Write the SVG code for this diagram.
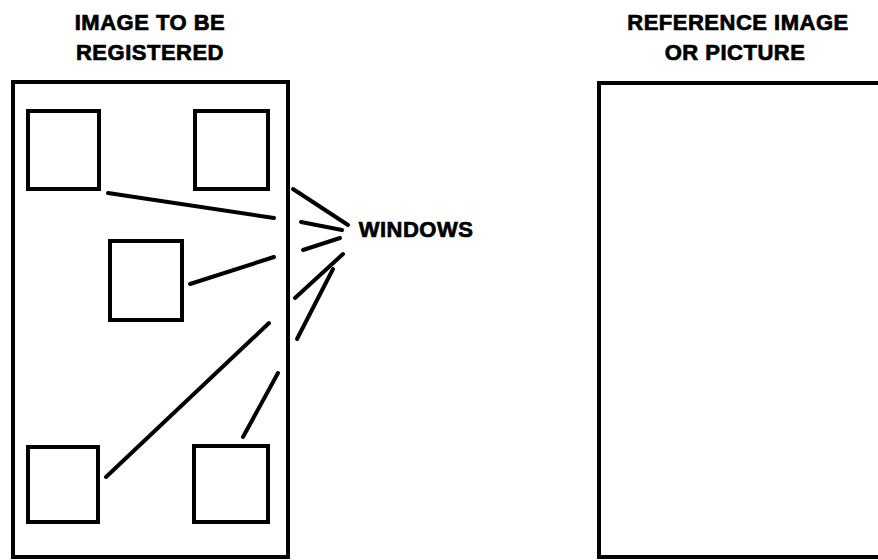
<svg xmlns="http://www.w3.org/2000/svg" width="878" height="560" viewBox="0 0 878 560">
<style>
.frame{fill:none;stroke:#000;stroke-width:4}
.win{fill:none;stroke:#000;stroke-width:4}
.conn line{stroke:#000;stroke-width:4;stroke-linecap:round}
.lbl{font-family:"Liberation Sans",Arial,Helvetica,sans-serif;font-weight:bold;font-size:22px;fill:#000;stroke:#000;stroke-width:0.7;text-anchor:middle;letter-spacing:0.5px}
</style>
<rect width="878" height="560" fill="#fff"/>
<g id="image-to-be-registered">
<text class="lbl" x="150" y="30">IMAGE TO BE</text>
<text class="lbl" x="150" y="60">REGISTERED</text>
<rect class="frame" x="13" y="82" width="275" height="475"/>
</g>
<g id="reference-image">
<text class="lbl" x="738" y="30">REFERENCE IMAGE</text>
<text class="lbl" x="735" y="60">OR PICTURE</text>
<rect class="frame" x="599" y="83" width="300" height="474"/>
</g>
<g id="window-tl"><rect class="win" x="28" y="111" width="71" height="78"/></g>
<g id="window-tr"><rect class="win" x="195" y="111" width="73" height="78"/></g>
<g id="window-mid"><rect class="win" x="110" y="241" width="72" height="79"/></g>
<g id="window-bl"><rect class="win" x="28" y="447" width="70" height="75"/></g>
<g id="window-br"><rect class="win" x="194" y="446" width="74" height="76"/></g>
<g id="windows-label"><text class="lbl" x="416" y="237" letter-spacing="0">WINDOWS</text></g>
<g id="connectors" class="conn">
<line x1="108" y1="193" x2="274" y2="218"/>
<line x1="190" y1="284" x2="274" y2="257"/>
<line x1="106" y1="477" x2="269" y2="323"/>
<line x1="243" y1="437" x2="278" y2="373"/>
<line x1="293" y1="189" x2="348" y2="225"/>
<line x1="301" y1="222" x2="342" y2="230"/>
<line x1="303" y1="250" x2="340" y2="238"/>
<line x1="295" y1="298" x2="343" y2="254"/>
<line x1="297" y1="339" x2="333" y2="269"/>
</g>
</svg>
